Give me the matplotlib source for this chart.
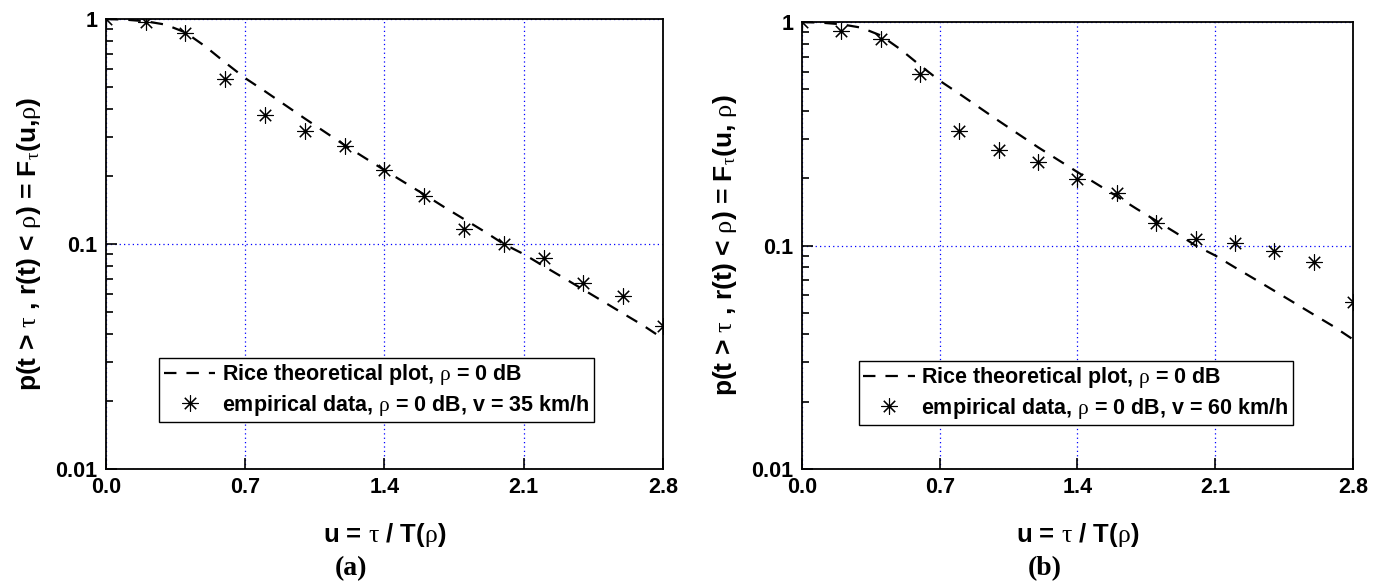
"""Two-panel comparison: Rice theoretical outage-duration curve vs measured data.

Writes out.png (1383x581).
"""
import matplotlib
matplotlib.use("Agg")
import matplotlib.pyplot as plt
from matplotlib import font_manager
from matplotlib.ticker import FixedLocator, LogLocator, NullFormatter

# theoretical Rice curve, rho = 0 dB
u_theory = [0.0, 0.1, 0.2, 0.3, 0.4, 0.5, 0.6, 0.7, 0.8, 0.9, 1.0, 1.1, 1.2, 1.3, 1.4,
            1.5, 1.6, 1.7, 1.8, 1.9, 2.0, 2.1, 2.2, 2.3, 2.4, 2.5, 2.6, 2.7, 2.8]
f_theory = [1.0, 0.993, 0.977, 0.944, 0.871, 0.755, 0.640, 0.546, 0.477, 0.415, 0.361,
            0.315, 0.275, 0.242, 0.213, 0.188, 0.166, 0.146, 0.129, 0.114, 0.100, 0.0902,
            0.0798, 0.0708, 0.0627, 0.0555, 0.0491, 0.0435, 0.0380]

# empirical points
u_emp = [0.0, 0.2, 0.4, 0.6, 0.8, 1.0, 1.2, 1.4, 1.6, 1.8, 2.0, 2.2, 2.4, 2.6, 2.8]
emp_35 = [1.0, 0.97, 0.87, 0.54, 0.374, 0.319, 0.273, 0.213, 0.164, 0.117, 0.0997,
          0.087, 0.067, 0.059, 0.043]
emp_60 = [1.0, 0.914, 0.836, 0.585, 0.326, 0.267, 0.236, 0.198, 0.171, 0.126, 0.107,
          0.103, 0.0948, 0.0841, 0.056]

x_ticks = [0.0, 0.7, 1.4, 2.1, 2.8]
x_tick_labels = ["0.0", "0.7", "1.4", "2.1", "2.8"]
y_ticks = [0.01, 0.1, 1]
y_tick_labels = ["0.01", "0.1", "1"]

speeds = ["35", "60"]
captions = ["(a)", "(b)"]
ylabels = [r"p(t > $\tau$ , r(t) < $\rho$) = F$_{\tau}$(u,$\rho$)",
           r"p(t > $\tau$ , r(t) < $\rho$) = F$_{\tau}$(u, $\rho$)"]

names = {f.name for f in font_manager.fontManager.ttflist}
SANS = "Liberation Sans Narrow" if "Liberation Sans Narrow" in names else "Liberation Sans"

plt.rcParams["font.family"] = [SANS, "DejaVu Sans"]
plt.rcParams["mathtext.fontset"] = "custom"
plt.rcParams["mathtext.rm"] = "Liberation Serif:weight=normal"
plt.rcParams["mathtext.default"] = "rm"


def panel(fig, rect, emp, speed, caption, ylabel, leg_anchor):
    ax = fig.add_axes(rect)
    ax.set_yscale("log")
    ax.plot(u_theory, f_theory, color="black", lw=1.6, dashes=(5.6, 4.5),
            label=r"Rice theoretical plot, $\rho$ = 0 dB", zorder=3)
    ax.plot(u_emp, emp, ls="none", marker=(8, 2, 0), ms=11.5, mew=0.8, color="black",
            label=r"empirical data, $\rho$ = 0 dB, v = %s km/h" % speed, zorder=4)
    ax.set_xlim(0, 2.8)
    ax.set_ylim(0.01, 1)

    ax.xaxis.set_major_locator(FixedLocator(x_ticks))
    ax.set_xticklabels(x_tick_labels)
    ax.yaxis.set_major_locator(FixedLocator(y_ticks))
    ax.set_yticklabels(y_tick_labels)
    ax.yaxis.set_minor_locator(LogLocator(base=10, subs=range(2, 10)))
    ax.yaxis.set_minor_formatter(NullFormatter())
    ax.tick_params(which="both", direction="in", top=False, right=False,
                   labelsize=15.5, pad=6, width=1.2)
    ax.tick_params(which="major", length=8)
    ax.tick_params(which="minor", length=5)
    for lab in ax.get_xticklabels() + ax.get_yticklabels():
        lab.set_fontweight("bold")

    ax.grid(True, which="major", color="blue", linestyle=(0, (1, 2.5)), lw=0.9)
    for s in ax.spines.values():
        s.set_linewidth(1.3)

    ax.set_xlabel(r"u = $\tau$ / T($\rho$)", fontsize=18.5, fontweight="bold", labelpad=16)
    ax.set_ylabel(ylabel, fontsize=19, fontweight="bold", labelpad=9)

    leg = ax.legend(loc="lower left", bbox_to_anchor=leg_anchor, numpoints=1,
                    fancybox=False, framealpha=1, edgecolor="black",
                    prop={"family": SANS, "weight": "bold", "size": 15.5},
                    handlelength=2.4, handletextpad=0.3, borderpad=0.2,
                    labelspacing=0.25, borderaxespad=0)
    leg.get_frame().set_linewidth(1.0)

    x0, _, w, _ = rect
    fig.text(x0 + w / 2 - 0.024, 0.0, caption, ha="center", va="bottom",
             fontsize=20, fontweight="bold", family="Liberation Serif")
    return ax


def main():
    fig = plt.figure(figsize=(13.83, 5.81), dpi=100)
    rects = [[0.0766, 0.1928, 0.4027, 0.7745], [0.5799, 0.1928, 0.3984, 0.7693]]
    anchors = [(0.096, 0.104), (0.103, 0.098)]
    for rect, emp, speed, cap, yl, anc in zip(rects, [emp_35, emp_60], speeds, captions,
                                              ylabels, anchors):
        panel(fig, rect, emp, speed, cap, yl, anc)
    fig.savefig("out.png", dpi=100)
    plt.close(fig)


if __name__ == "__main__":
    main()
